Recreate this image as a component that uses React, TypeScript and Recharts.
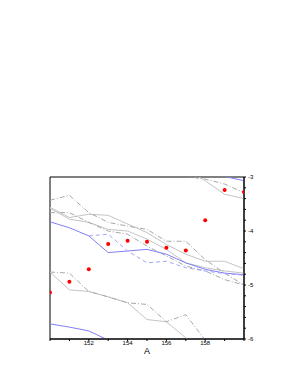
import React from "react";
import { LineChart, Line, XAxis, YAxis, ReferenceArea } from "recharts";

const xs = [150, 151, 152, 153, 154, 155, 156, 157, 158, 159, 160];
const observed = [-5.14, -4.94, -4.71, -4.24, -4.18, -4.2, -4.31, -4.36, -3.8, -3.24, -3.28];

const mid1 = [-3.43, -3.34, -3.66, -3.84, -3.91, -3.97, -4.19, -4.19, -4.53, -4.78, -5.0];
const mid2 = [-3.56, -3.75, -3.69, -3.71, -3.87, -4.03, -4.25, -4.43, -4.56, -4.56, -4.7];
const mid3 = [-3.58, -3.78, -3.84, -3.97, -4.0, -4.15, -4.34, -4.59, -4.68, -4.74, -4.78];
const mid4 = [-3.66, -3.66, -3.84, -4.0, -4.06, -4.28, -4.46, -4.65, -4.74, -4.9, -5.0];
const midBlue = [-3.83, -3.94, -4.09, -4.4, -4.37, -4.34, -4.43, -4.59, -4.71, -4.78, -4.81];
const midBlueDash = [null, null, -4.09, -4.06, -4.37, -4.59, -4.56, -4.68, -4.74, -4.79, -4.82];

const top1 = [null, null, null, null, null, null, -2.8, -2.99, -3.04, -3.13, -3.29];
const top2 = [null, null, null, null, null, null, null, -2.85, -3.07, -3.32, -3.4];
const top3 = [null, null, null, null, null, null, null, null, -2.85, -2.99, -3.07];

const low1 = [-4.76, -4.78, -5.12, -5.22, -5.33, -5.36, -5.68, -5.55, -6.02, -6.3, null];
const low2 = [-4.76, -5.09, -5.12, -5.22, -5.33, -5.64, -5.68, -5.98, -6.3, null, null];
const lowBlue = [-5.72, -5.78, -5.85, -6.02, -6.2, null, null, null, null, null, null];

const xTicks = [150, 151, 152, 153, 154, 155, 156, 157, 158, 159, 160];
const xLabels = [152, 154, 156, 158];
const yMajor = [-6, -5, -4, -3];
const yTicks = Array.from({ length: 16 }, (_, i) => Math.round((-6 + i * 0.2) * 10) / 10);

const data = xs.map((x, i) => ({
  x,
  observed: observed[i],
  mid1: mid1[i],
  mid2: mid2[i],
  mid3: mid3[i],
  mid4: mid4[i],
  midBlue: midBlue[i],
  midBlueDash: midBlueDash[i],
  top1: top1[i],
  top2: top2[i],
  top3: top3[i],
  low1: low1[i],
  low2: low2[i],
  lowBlue: lowBlue[i],
}));

const GRAY = "#c4c4c4";
const GRAY_DD = "#a8a8a8";
const BLUE = "#7f7ff8";
const BLUE_LIGHT = "#a4a4fb";
const DASHDOT = "5 2 1 2";
const FONT = "Liberation Sans, Arial, sans-serif";

export default function App() {
  const common = { isAnimationActive: false, dot: false, strokeWidth: 1, connectNulls: false } as const;
  return (
    <LineChart
      width={279}
      height={360}
      data={data}
      margin={{ top: 169, right: 13, bottom: 9, left: 42 }}
      style={{ fontFamily: FONT }}
    >
      <XAxis
        xAxisId="b"
        dataKey="x"
        type="number"
        domain={[150, 160]}
        ticks={xTicks}
        allowDataOverflow
        tickSize={2}
        tickMargin={0}
        height={20}
        stroke="#000"
        tick={{ fontSize: 6, fill: "#000" }}
        tickFormatter={(v: number) => (xLabels.includes(v) ? String(v) : "")}
        label={{ value: "A", position: "insideBottom", offset: 5, fontSize: 9, fill: "#000" }}
      />
      <XAxis
        xAxisId="t"
        dataKey="x"
        type="number"
        orientation="top"
        domain={[150, 160]}
        ticks={xTicks}
        allowDataOverflow
        tickSize={2}
        height={0}
        stroke="#000"
        tick={false}
      />
      <YAxis
        yAxisId="r"
        orientation="right"
        type="number"
        domain={[-6, -3]}
        ticks={yTicks}
        allowDataOverflow
        tickSize={2}
        tickMargin={2}
        width={30}
        stroke="#000"
        tick={{ fontSize: 6, fill: "#000" }}
        tickFormatter={(v: number) => (yMajor.includes(v) ? String(v) : "")}
      />
      <YAxis
        yAxisId="l"
        orientation="left"
        type="number"
        domain={[-6, -3]}
        ticks={yTicks}
        allowDataOverflow
        tickSize={2}
        width={0}
        stroke="#000"
        tick={false}
      />
      <ReferenceArea
        xAxisId="b"
        yAxisId="r"
        x1={150}
        x2={160}
        y1={-6}
        y2={-3}
        fill="none"
        fillOpacity={0}
        stroke="#000"
        strokeWidth={1}
        ifOverflow="visible"
      />
      <Line xAxisId="b" yAxisId="r" dataKey="mid2" stroke={GRAY} {...common} />
      <Line xAxisId="b" yAxisId="r" dataKey="mid3" stroke={GRAY} {...common} />
      <Line xAxisId="b" yAxisId="r" dataKey="mid1" stroke={GRAY_DD} strokeDasharray={DASHDOT} {...common} />
      <Line xAxisId="b" yAxisId="r" dataKey="mid4" stroke={GRAY_DD} strokeDasharray={DASHDOT} {...common} />
      <Line xAxisId="b" yAxisId="r" dataKey="top2" stroke={GRAY} {...common} />
      <Line xAxisId="b" yAxisId="r" dataKey="top1" stroke={GRAY_DD} strokeDasharray={DASHDOT} {...common} />
      <Line xAxisId="b" yAxisId="r" dataKey="low2" stroke={GRAY} {...common} />
      <Line xAxisId="b" yAxisId="r" dataKey="low1" stroke={GRAY_DD} strokeDasharray={DASHDOT} {...common} />
      <Line xAxisId="b" yAxisId="r" dataKey="midBlue" stroke={BLUE} {...common} />
      <Line xAxisId="b" yAxisId="r" dataKey="midBlueDash" stroke={BLUE_LIGHT} strokeDasharray="4 3" {...common} />
      <Line xAxisId="b" yAxisId="r" dataKey="top3" stroke={BLUE} {...common} />
      <Line xAxisId="b" yAxisId="r" dataKey="lowBlue" stroke={BLUE} {...common} />
      <Line
        xAxisId="b"
        yAxisId="r"
        dataKey="observed"
        stroke="none"
        strokeWidth={0}
        isAnimationActive={false}
        dot={{ r: 2, fill: "#ff0000", stroke: "none" }}
      />
    </LineChart>
  );
}
